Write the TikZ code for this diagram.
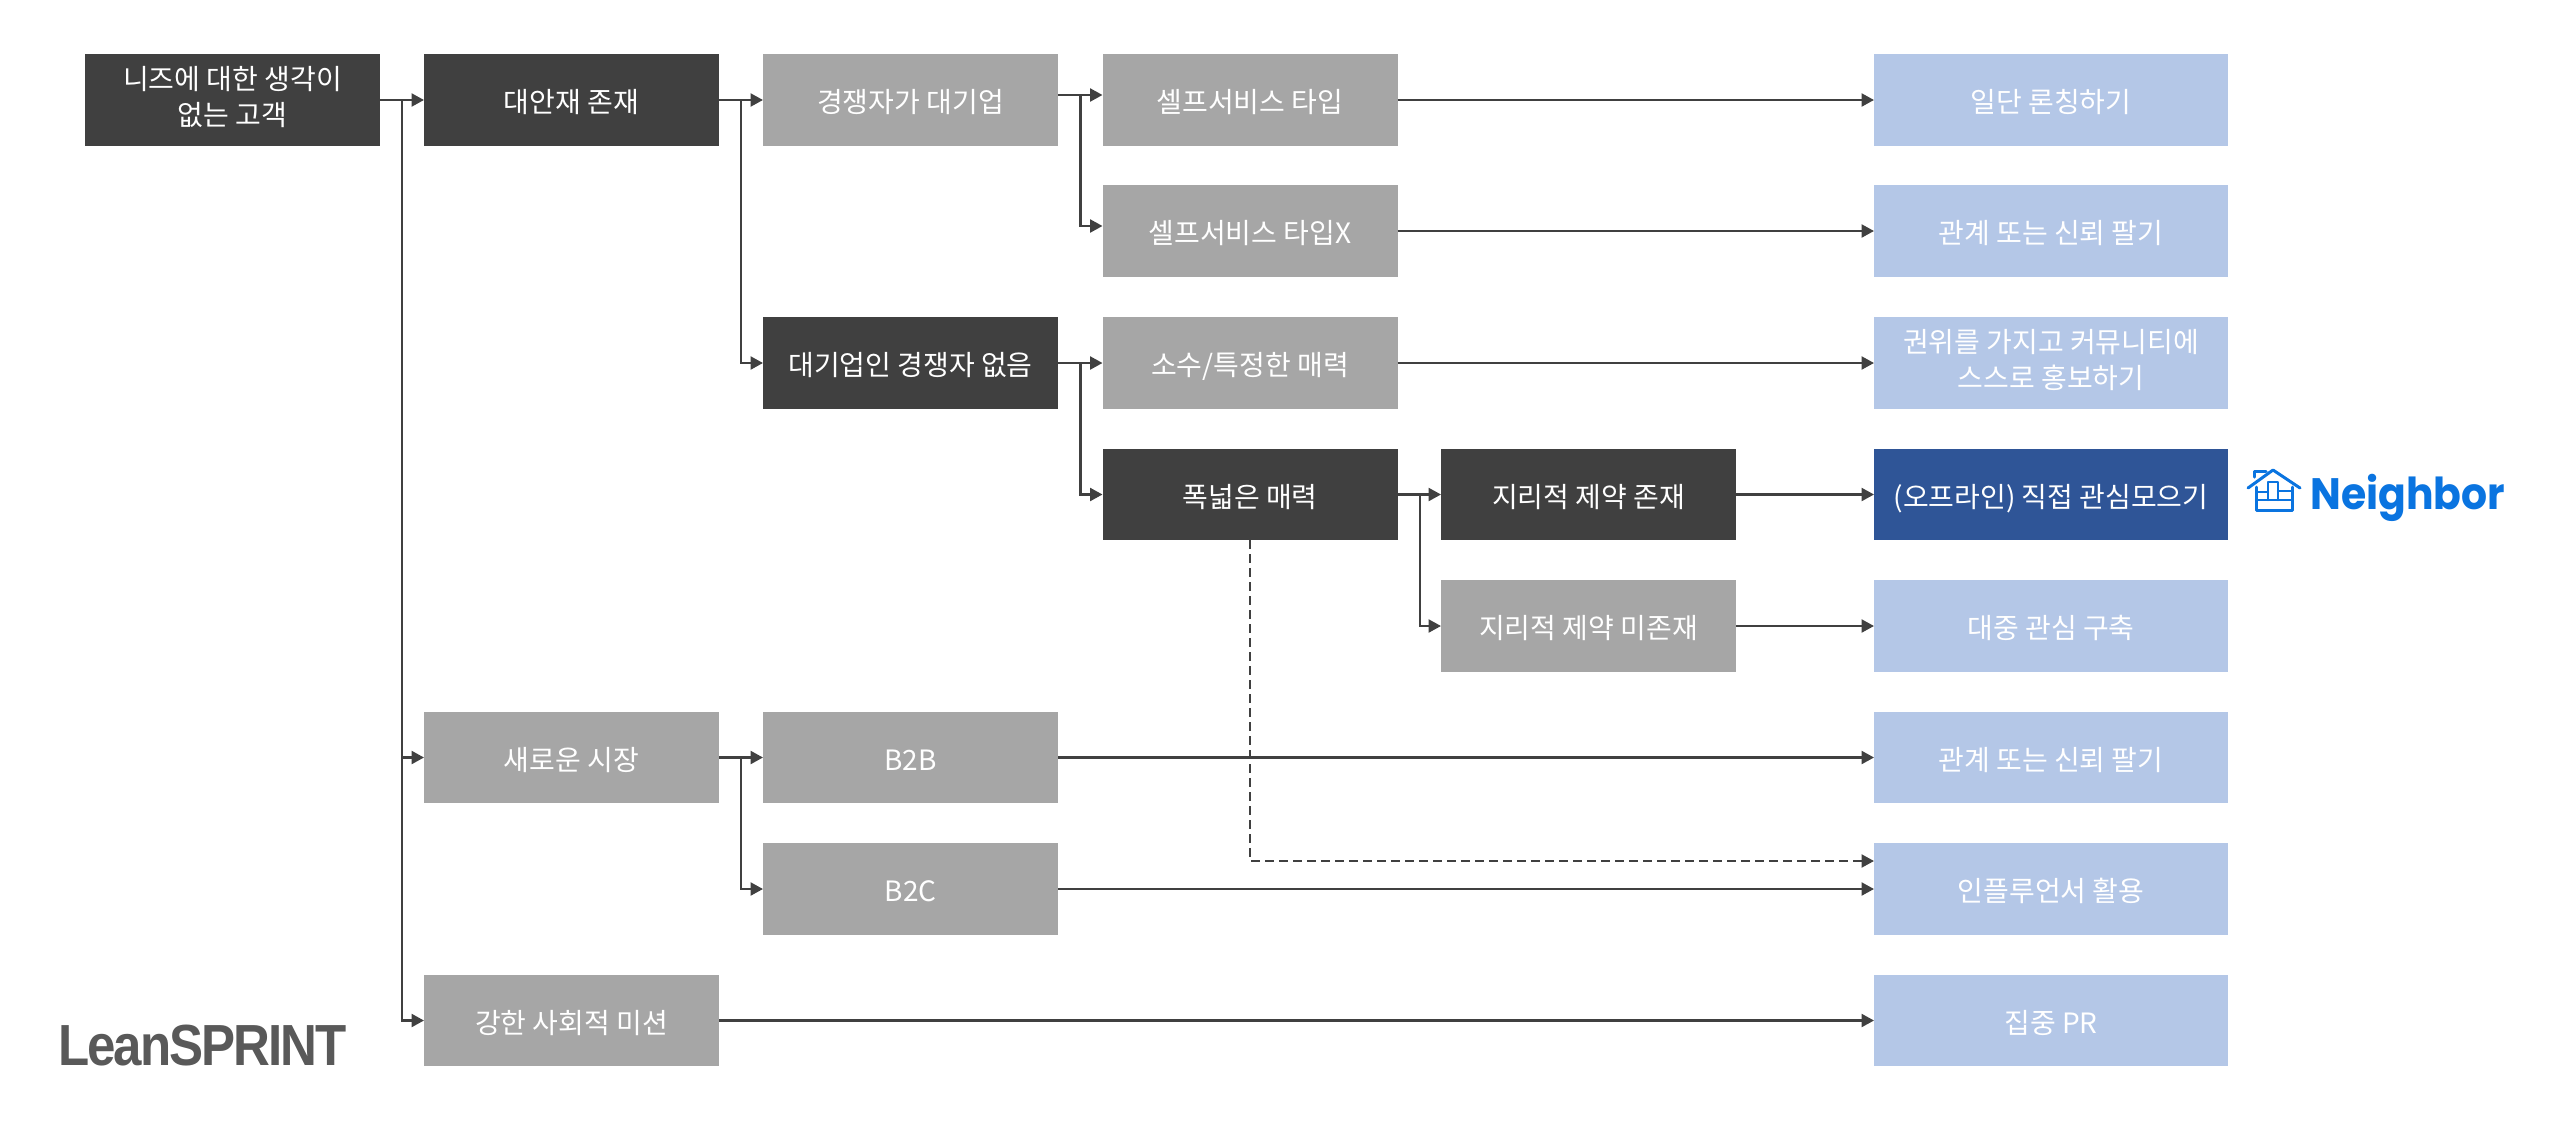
\documentclass[tikz,border=0pt]{standalone}
\usepackage{fontspec}
\setmainfont{Noto Sans CJK KR}
\newfontfamily\nbfont{Poppins}[BoldFont={* Bold},BoldFeatures={FakeStretch=0.93}]
\newfontfamily\lsfont{Liberation Sans}[BoldFeatures={FakeStretch=0.88},LetterSpace=-3.4]
\usetikzlibrary{arrows.meta,calc}
\definecolor{darkbox}{HTML}{404040}
\definecolor{graybox}{HTML}{A6A6A6}
\definecolor{lightbox}{HTML}{B4C7E7}
\definecolor{navybox}{HTML}{2F5597}
\definecolor{nbblue}{HTML}{0A74E0}
\definecolor{lsgray}{HTML}{595959}
\tikzset{
  box/.style={rectangle,minimum width=295pt,minimum height=91.5pt,inner sep=0pt,outer sep=0pt,
    text=white,align=center,font=\fontsize{28}{36}\selectfont,
    execute at begin node={\rule{0pt}{33pt}},
    execute at end node={\rule[-8pt]{0pt}{8pt}}},
  dbox/.style={box,fill=darkbox},
  gbox/.style={box,fill=graybox},
  lbox/.style={box,fill=lightbox,minimum width=354pt},
  nbox/.style={box,fill=navybox,minimum width=354pt},
  conn/.style={draw=darkbox,line width=2.4pt,-{Triangle[length=12.5pt,width=13pt]}},
  dconn/.style={conn,line width=2.2pt,dash pattern=on 8.5pt off 5.5pt},
  hs/.style={draw=nbblue,line width=3pt,line cap=round,line join=round}
}
\begin{document}
\begin{tikzpicture}[x=1pt,y=-1pt]
\useasboundingbox (0,0) rectangle (2564,1125);
\fill[white] (0,0) rectangle (2564,1125);
% column 0
\node[dbox] (need) at (232.5,100) {니즈에 대한 생각이\\없는 고객};
% column 1
\node[dbox] (alt) at (571.5,100) {대안재 존재};
\node[gbox] (newm) at (571.5,757.5) {새로운 시장};
\node[gbox] (mission) at (571.5,1020.5) {강한 사회적 미션};
% column 2
\node[gbox] (big) at (910.5,100) {경쟁자가 대기업};
\node[dbox] (nobig) at (910.5,363) {대기업인 경쟁자 없음};
\node[gbox] (btb) at (910.5,757.5) {B2B};
\node[gbox] (btc) at (910.5,889) {B2C};
% column 3
\node[gbox] (self) at (1250,100) {셀프서비스 타입};
\node[gbox] (selfx) at (1250,231) {셀프서비스 타입X};
\node[gbox] (few) at (1250,363) {소수/특정한 매력};
\node[dbox] (wide) at (1250,494.5) {폭넓은 매력};
% column 4
\node[dbox] (geo) at (1588.5,494.5) {지리적 제약 존재};
\node[gbox] (nogeo) at (1588.5,626) {지리적 제약 미존재};
% column 5
\node[lbox] (launch) at (2051,100) {일단 론칭하기};
\node[lbox] (trust) at (2051,231) {관계 또는 신뢰 팔기};
\node[lbox] (auth) at (2051,363) {권위를 가지고 커뮤니티에\\스스로 홍보하기};
\node[nbox] (offline) at (2051,494.5) {(오프라인) 직접 관심모으기};
\node[lbox] (mass) at (2051,626) {대중 관심 구축};
\node[lbox] (trust2) at (2051,757.5) {관계 또는 신뢰 팔기};
\node[lbox] (infl) at (2051,889) {인플루언서 활용};
\node[lbox] (pr) at (2051,1020.5) {집중 PR};
% junction columns
\coordinate (j0) at (402,0);
\coordinate (j1) at (741,0);
\coordinate (j2) at (1080.5,0);
\coordinate (j3) at (1420,0);
% tree connectors
\draw[conn] (need.east) -- (alt.west);
\draw[conn] (need.east -| j0) |- (newm.west);
\draw[conn] (need.east -| j0) |- (mission.west);
\draw[conn] (alt.east) -- (big.west);
\draw[conn] (alt.east -| j1) |- (nobig.west);
\draw[conn] ([yshift=5pt]big.east) -- ([yshift=5pt]self.west);
\draw[conn] ([yshift=5pt]big.east -| j2) |- ([yshift=5pt]selfx.west);
\draw[conn] (nobig.east) -- (few.west);
\draw[conn] (nobig.east -| j2) |- (wide.west);
\draw[conn] (wide.east) -- (geo.west);
\draw[conn] (wide.east -| j3) |- (nogeo.west);
\draw[conn] (newm.east) -- (btb.west);
\draw[conn] (newm.east -| j1) |- (btc.west);
% long connectors
\draw[conn] (self.east) -- (launch.west);
\draw[conn] (selfx.east) -- (trust.west);
\draw[conn] (few.east) -- (auth.west);
\draw[conn] (geo.east) -- (offline.west);
\draw[conn] (nogeo.east) -- (mass.west);
\draw[conn] (btb.east) -- (trust2.west);
\draw[conn] (btc.east) -- (infl.west);
\draw[conn] (mission.east) -- (pr.west);
% dashed link
\draw[dconn] (wide.south) |- ([yshift=28pt]infl.west);
% logos
\node[anchor=base west,inner sep=0pt,text=nbblue,font=\nbfont\bfseries\fontsize{44}{44}\selectfont] (nbtext) at (2310,509) {Neighbor};
\node[anchor=base west,inner sep=0pt,text=lsgray,font=\lsfont\bfseries\fontsize{58}{58}\selectfont] (lslogo) at (58,1065) {LeanSPRINT};
% house icon
\draw[hs] (2248,488) -- (2273,470) -- (2300,488);
\draw[hs] (2254,477) -- (2254,471) -- (2266,471);
\draw[hs] (2256,487) -- (2256,510) -- (2292,510) -- (2292,487);
\draw[hs,line width=2.4pt] (2256,500) -- (2292,500);
\draw[hs,line width=2.4pt] (2268,500) -- (2268,482) -- (2278,482) -- (2278,500);
\draw[hs,line width=2.4pt] (2278,491) -- (2292,491);
\draw[hs,line width=2.4pt] (2258,492) -- (2268,492);
\end{tikzpicture}
\end{document}
